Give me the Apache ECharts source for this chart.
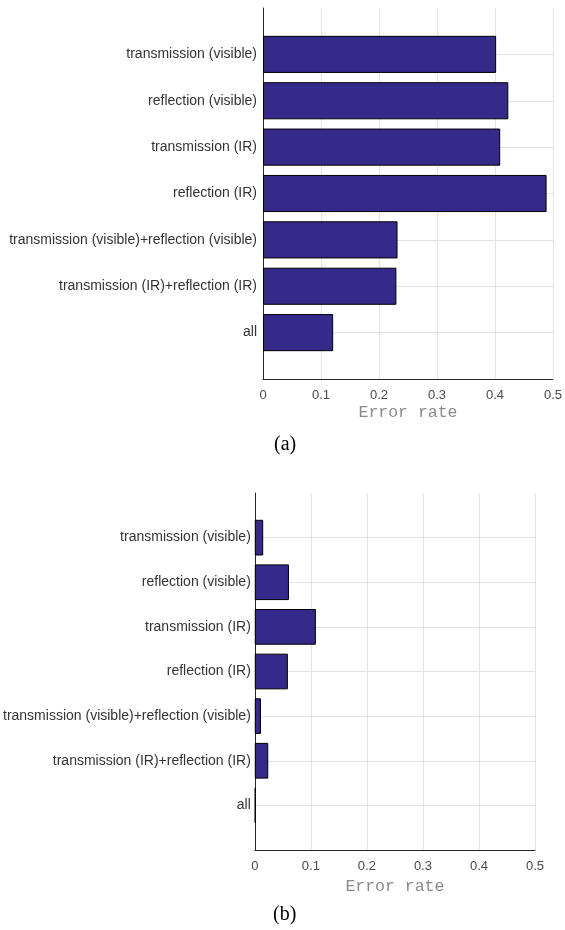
<!DOCTYPE html>
<html>
<head>
<meta charset="utf-8">
<script src="https://cdn.jsdelivr.net/npm/echarts@6/dist/echarts.min.js"></script>
<style>
html,body{margin:0;padding:0;background:#fff;}
#c{width:565px;height:930px;}
</style>
</head>
<body>
<div id="c"></div>
<script>
// Categories, listed top to bottom as in the picture
const categories = [
  'transmission (visible)',
  'reflection (visible)',
  'transmission (IR)',
  'reflection (IR)',
  'transmission (visible)+reflection (visible)',
  'transmission (IR)+reflection (IR)',
  'all'
];
// Panel (a) error rates
const errorA = [0.402, 0.423, 0.409, 0.489, 0.232, 0.230, 0.121];
// Panel (b) error rates
const errorB = [0.015, 0.061, 0.109, 0.059, 0.011, 0.024, 0.0015];
const xTicks = [0, 0.1, 0.2, 0.3, 0.4, 0.5];
const xName = 'Error rate';
const panelLabels = ['(a)', '(b)'];

// y axis: bottom-to-top order with empty slots at both ends (MATLAB-like limits 0..8)
const yCats = [''].concat(categories.slice().reverse(), ['']);
function padVals(v) { return [null].concat(v.slice().reverse(), [null]); }

const chart = echarts.init(document.getElementById('c'), null, {renderer: 'canvas'});

const labelFont = {fontFamily: 'Liberation Sans, Arial, sans-serif', fontSize: 14, color: '#333333'};
const gridColor = '#e3e3e3';
const axisColor = '#262626';

function xAxisFor(gi, gap) {
  return {
    type: 'value', gridIndex: gi, min: xTicks[0], max: xTicks[xTicks.length - 1], interval: 0.1,
    axisLine: {show: true, onZero: false, lineStyle: {color: axisColor, width: 1}},
    axisTick: {show: false},
    axisLabel: {margin: 10, fontFamily: 'Liberation Sans, Arial, sans-serif', fontSize: 13, color: '#4a4a4a',
      formatter: v => String(+v.toFixed(1))},
    splitLine: {show: true, lineStyle: {color: gridColor, width: 1}},
    name: xName, nameLocation: 'middle', nameGap: gap,
    nameTextStyle: {fontFamily: 'Liberation Mono, Courier New, monospace', fontSize: 16.5, color: '#8a8a8a'}
  };
}
function yAxisFor(gi, margin) {
  return {
    type: 'category', gridIndex: gi, data: yCats, boundaryGap: false,
    axisLine: {show: true, lineStyle: {color: axisColor, width: 1}},
    axisTick: {show: false},
    axisLabel: Object.assign({margin: margin, interval: 0}, labelFont),
    splitLine: {show: true, interval: (i) => i > 0 && i < yCats.length - 1, lineStyle: {color: gridColor, width: 1}}
  };
}
function barSeries(gi, vals) {
  return {
    type: 'bar', xAxisIndex: gi, yAxisIndex: gi, data: padVals(vals), barWidth: '80%',
    itemStyle: {color: '#35298a', borderColor: '#000000', borderWidth: 1},
    silent: true, animation: false
  };
}

chart.setOption({
  animation: false,
  backgroundColor: '#ffffff',
  grid: [
    {left: 263, right: 8, top: 8, bottom: 551, containLabel: false},
    {left: 253, right: 30, top: 493, bottom: 80, containLabel: false}
  ],
  xAxis: [xAxisFor(0, 25), xAxisFor(1, 28)],
  yAxis: [yAxisFor(0, 6), yAxisFor(1, 4)],
  series: [barSeries(0, errorA), barSeries(1, errorB)],
  graphic: [
    {type: 'text', left: 274, top: 435, style: {text: panelLabels[0], font: '20px "Liberation Serif", "Times New Roman", serif', fill: '#000'}},
    {type: 'text', left: 273, top: 905, style: {text: panelLabels[1], font: '20px "Liberation Serif", "Times New Roman", serif', fill: '#000'}}
  ]
});
</script>
</body>
</html>
